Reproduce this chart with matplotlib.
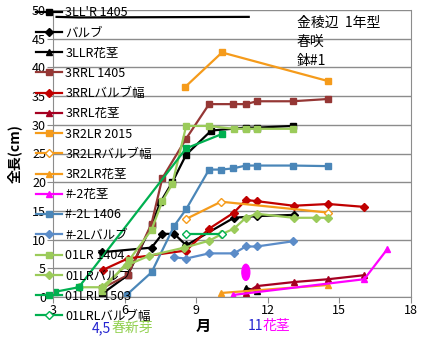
import matplotlib
matplotlib.use('Agg')
import matplotlib.pyplot as plt
from matplotlib.patches import Ellipse

plt.rcParams['font.family'] = ['Noto Sans CJK JP', 'DejaVu Sans']

# month (x) and length in cm (y) for each series
lll_1405_x = [5.04, 6.13, 7.13, 7.5, 8.0, 8.58, 9.63, 11.08, 11.54, 13.04]
lll_1405_y = [0.5, 3.8, 12.5, 16.5, 20.0, 24.8, 29.0, 29.5, 29.5, 29.8]
top_x = [3.15, 4.1, 11.2]
top_y = [48.8, 48.7, 48.8]
bulb_x = [5.04, 7.13, 7.58, 8.08, 8.58, 10.58, 11.54, 13.08]
bulb_y = [7.8, 8.6, 11.0, 11.0, 9.0, 13.8, 14.1, 14.3]
llr_stem_x = [11.08, 11.54]
llr_stem_y = [1.6, 1.0]
rrl_1405_x = [5.04, 6.13, 7.13, 7.58, 8.58, 9.54, 10.54, 11.08, 11.54, 13.04, 14.54]
rrl_1405_y = [1.5, 3.8, 12.8, 20.7, 27.6, 33.6, 33.6, 33.6, 34.1, 34.1, 34.5]
rrl_bulb_x = [5.08, 6.13, 8.58, 9.54, 10.58, 11.08, 11.54, 13.08, 14.54, 16.04]
rrl_bulb_y = [4.7, 6.7, 8.1, 11.9, 14.7, 16.9, 16.7, 15.9, 16.2, 15.7]
rrl_stem_x = [11.08, 11.54, 13.08, 14.54, 16.04]
rrl_stem_y = [0.7, 1.9, 2.6, 3.1, 3.8]
r2lr_2015_x = [8.54, 10.08, 14.54]
r2lr_2015_y = [36.6, 42.6, 37.6]
r2lr_bulb_x = [8.58, 10.04, 14.54]
r2lr_bulb_y = [13.6, 16.6, 14.7]
r2lr_stem_x = [10.04, 14.54]
r2lr_stem_y = [0.7, 2.1]
m2_stem_x = [10.54, 16.04, 17.0]
m2_stem_y = [0.35, 3.1, 8.3]
m2l_1406_x = [6.08, 7.13, 8.08, 8.58, 9.54, 10.04, 10.54, 11.08, 11.54, 13.04, 14.54]
m2l_1406_y = [0.35, 4.3, 12.4, 15.3, 22.2, 22.2, 22.4, 22.9, 22.9, 22.9, 22.8]
m2l_bulb_x = [8.08, 8.58, 9.54, 10.58, 11.08, 11.54, 13.04]
m2l_bulb_y = [6.9, 6.7, 7.6, 7.6, 8.8, 8.8, 9.7]
lr_1404_x = [5.04, 6.2, 7.13, 7.58, 8.0, 8.58, 9.54, 10.58, 11.08, 11.54, 13.04]
lr_1404_y = [1.0, 6.5, 11.7, 16.7, 19.7, 29.8, 29.8, 29.3, 29.3, 29.3, 29.3]
lr_bulb_x = [4.08, 5.04, 6.08, 7.04, 8.5, 9.54, 10.04, 10.58, 11.08, 11.54, 13.08, 14.04, 14.54]
lr_bulb_y = [1.7, 1.7, 5.5, 7.2, 8.6, 9.8, 10.9, 11.9, 13.8, 14.5, 13.8, 13.8, 13.8]
lrl_1503_x = [3.08, 4.08, 8.58, 10.08]
lrl_1503_y = [0.9, 1.7, 25.9, 28.4]
lrl_bulb_x = [8.58, 10.08]
lrl_bulb_y = [11.0, 11.0]

fig = plt.figure(figsize=(4.28, 3.41), dpi=100)
ax = fig.add_axes([53/428, 1-297/341, 358/428, 287/341])

kw = dict(lw=1.6, ms=5)
ax.plot(lll_1405_x, lll_1405_y, '-s', color='black', label="3LL'R 1405", **kw)
ax.plot(top_x, top_y, '-', color='black', lw=1.6, zorder=1)
ax.plot(bulb_x, bulb_y, '-D', color='black', label='バルブ', lw=1.6, ms=4)
ax.plot(llr_stem_x, llr_stem_y, '-^', color='black', label='3LLR花茎', **kw)
ax.plot(rrl_1405_x, rrl_1405_y, '-s', color='#953735', label='3RRL 1405', **kw)
ax.plot(rrl_bulb_x, rrl_bulb_y, '-D', color='#C00000', label='3RRLバルブ幅', lw=1.6, ms=4)
ax.plot(rrl_stem_x, rrl_stem_y, '-^', color='#A50021', label='3RRL花茎', **kw)
ax.plot(r2lr_2015_x, r2lr_2015_y, '-s', color='#F59B1B', label='3R2LR 2015', **kw)
ax.plot(r2lr_bulb_x, r2lr_bulb_y, '-D', color='#F59B1B', mfc='white',
        label='3R2LRバルブ幅', lw=1.6, ms=4)
ax.plot(r2lr_stem_x, r2lr_stem_y, '-^', color='#F59B1B', label='3R2LR花茎', **kw)
ax.plot(m2_stem_x, m2_stem_y, '-^', color='#FF00FF', label='#-2花茎', **kw)
ax.plot(m2l_1406_x, m2l_1406_y, '-s', color='#4A86B8', label='#-2L 1406', **kw)
ax.plot(m2l_bulb_x, m2l_bulb_y, '-D', color='#5B8CC8', label='#-2Lバルブ', lw=1.6, ms=4)
ax.plot(lr_1404_x, lr_1404_y, '-s', color='#9BCB5A', label='01LR 1404', **kw)
ax.plot(lr_bulb_x, lr_bulb_y, '-D', color='#9BCB5A', label='01LRバルブ', lw=1.6, ms=4)
ax.plot(lrl_1503_x, lrl_1503_y, '-s', color='#00B050', label='01LRL 1503', **kw)
ax.plot(lrl_bulb_x, lrl_bulb_y, '-D', color='#00B050', mfc='white',
        label='01LRLバルブ幅', lw=1.6, ms=4)

# flowering mark in november
ax.add_patch(Ellipse((11.08, 4.3), 0.33, 2.8, color='#FF00FF', zorder=5))

ax.set_xlim(3, 18)
ax.set_ylim(0, 50)
ax.set_xticks([3, 6, 9, 12, 15, 18])
ax.set_yticks(range(0, 51, 5))
ax.yaxis.grid(True, color='#8C8C8C', lw=1)
ax.set_axisbelow(True)
ax.spines['top'].set_visible(False)
for s in ['left', 'right', 'bottom']:
    ax.spines[s].set_color('#8C8C8C')
ax.tick_params(labelsize=9, length=4, color='#8C8C8C', pad=1)

ax.set_ylabel('全長(cm)', fontsize=10, fontweight='bold', labelpad=7)
fig.text(203/428, 1-326/341, '月', fontsize=11, fontweight='bold', ha='center', va='center')
fig.text(92/428, 1-328/341, '4,5', fontsize=10, color='#2424D0', va='center')
fig.text(112/428, 1-328/341, '春新芽', fontsize=10, color='#92D050', va='center')
fig.text(248/428, 1-326/341, '11', fontsize=10, color='#2424D0', va='center')
fig.text(263/428, 1-326/341, '花茎', fontsize=10, color='#FF00FF', va='center')
fig.text(297/428, 1-16/341, '金稜辺  1年型\n春咲\n鉢#1', fontsize=10,
         va='top', linespacing=1.45)

ax.legend(loc='upper left', bbox_to_anchor=(36/428, 1-6/341),
          bbox_transform=fig.transFigure, frameon=False, fontsize=9,
          borderpad=0, borderaxespad=0, handlelength=2.1, handletextpad=0.25,
          labelspacing=0.58)

fig.savefig('out.png', dpi=100)
